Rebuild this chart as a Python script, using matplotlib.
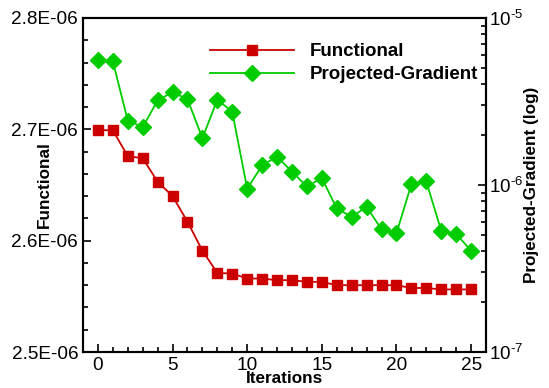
import numpy as np
import matplotlib
matplotlib.use("Agg")
import matplotlib.pyplot as plt
from matplotlib.ticker import MultipleLocator, FuncFormatter, LogLocator

plt.rcParams['font.family'] = ['Liberation Sans', 'DejaVu Sans']
plt.rcParams['mathtext.fontset'] = 'custom'
plt.rcParams['mathtext.rm'] = 'Liberation Sans'

# data
iterations = list(range(26))
functional = [2.6995e-06, 2.699e-06, 2.676e-06, 2.674e-06, 2.653e-06, 2.640e-06,
              2.617e-06, 2.591e-06, 2.571e-06, 2.5705e-06, 2.566e-06, 2.566e-06,
              2.5645e-06, 2.5645e-06, 2.563e-06, 2.563e-06, 2.560e-06, 2.560e-06,
              2.560e-06, 2.560e-06, 2.560e-06, 2.5575e-06, 2.5575e-06, 2.5562e-06,
              2.5562e-06, 2.5562e-06]
proj_gradient = [5.6e-06, 5.5e-06, 2.43e-06, 2.22e-06, 3.21e-06, 3.6e-06,
                 3.26e-06, 1.91e-06, 3.24e-06, 2.75e-06, 9.5e-07, 1.31e-06,
                 1.48e-06, 1.2e-06, 9.8e-07, 1.1e-06, 7.25e-07, 6.45e-07,
                 7.4e-07, 5.43e-07, 5.14e-07, 1.01e-06, 1.05e-06, 5.32e-07,
                 5.09e-07, 4.05e-07]

fig = plt.figure(figsize=(5.49, 3.88), dpi=100)
ax = fig.add_axes([83/549, 1 - 352/388, (486-83)/549, (352-18)/388])
ax2 = ax.twinx()

l1, = ax.plot(iterations, functional, color='#cc0000', marker='s', markersize=7,
              linewidth=1.3, label='Functional')
l2, = ax2.plot(iterations, proj_gradient, color='#00cc00', marker='D', markersize=8,
               linewidth=1.3, label='Projected-Gradient')

ax.set_xlim(-1, 26)
ax.set_ylim(2.5e-06, 2.8e-06)
ax.yaxis.set_major_locator(MultipleLocator(1e-07))
ax.yaxis.set_minor_locator(MultipleLocator(2e-08))
ax.xaxis.set_major_locator(MultipleLocator(5))
ax.xaxis.set_minor_locator(MultipleLocator(1))
ax.yaxis.set_major_formatter(FuncFormatter(lambda v, p: '%.1E' % v))
ax.tick_params(which='both', direction='in', top=False, right=False, labelsize=13.7, width=1.2)
ax.tick_params(which='major', length=6)
ax.tick_params(which='minor', length=3.5)

ax2.set_yscale('log')
ax2.set_ylim(1e-07, 1e-05)
ax2.yaxis.set_major_locator(LogLocator(base=10, numticks=5))
ax2.yaxis.set_minor_locator(LogLocator(base=10, subs=np.arange(2, 10), numticks=12))
ax2.yaxis.set_major_formatter(FuncFormatter(
    lambda v, p: r'$10^{\text{-%d}}$' % round(-np.log10(v))))
ax2.tick_params(which='both', direction='in', labelsize=13.5, width=1.2, pad=2)
ax2.tick_params(which='major', length=6)
ax2.tick_params(which='minor', length=3.5)

for a in (ax, ax2):
    for s in a.spines.values():
        s.set_linewidth(1.5)

ax.set_xlabel('Iterations', fontsize=12.3, fontweight='bold')
ax.set_ylabel('Functional', fontsize=12.3, fontweight='bold')
ax2.set_ylabel('Projected-Gradient (log)', fontsize=12.3, fontweight='bold')
ax.xaxis.set_label_coords(0.5, -(371-352)/334)
ax.yaxis.set_label_coords((52-83)/403, (352-185)/334)
ax2.yaxis.set_label_coords((524-83)/403, 0.5)

ax.legend(handles=[l1, l2], loc='upper left', bbox_to_anchor=((210-83)/403, (352-43)/334),
          frameon=False, borderaxespad=0, borderpad=0,
          prop={'weight': 'bold', 'size': 13.5}, handlelength=4.5, handletextpad=0.8,
          labelspacing=0.32)

plt.savefig('out.png', dpi=100)
